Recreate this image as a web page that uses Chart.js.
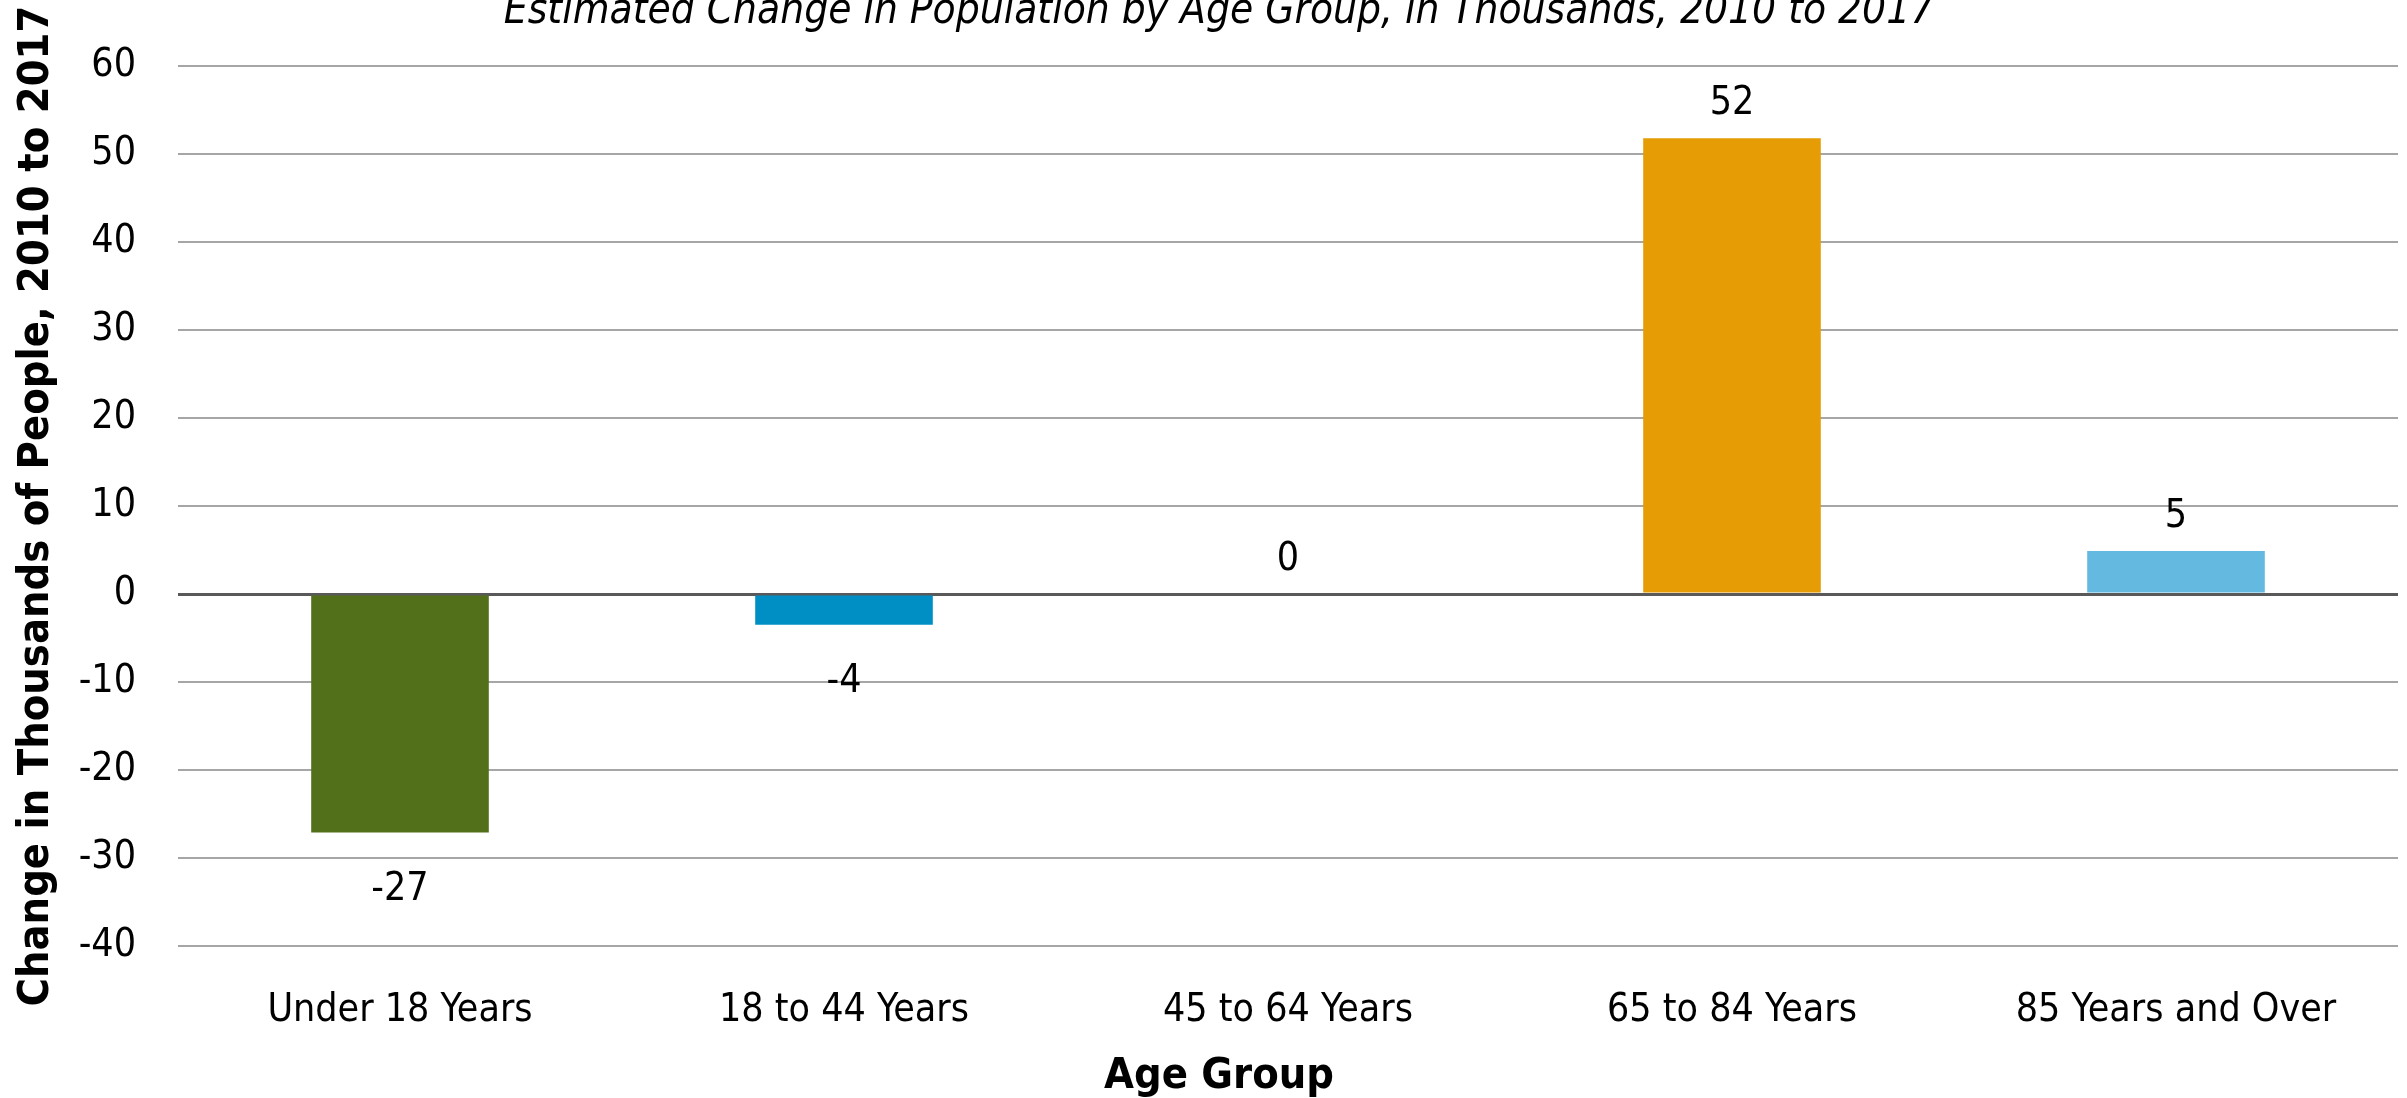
<!DOCTYPE html>
<html>
<head>
<meta charset="utf-8">
<script src="https://cdn.jsdelivr.net/npm/chart.js@4/dist/chart.umd.min.js"></script>
<style>
  html, body { margin: 0; padding: 0; background: #fff; overflow: hidden; }
  #wrap { position: relative; width: 2407px; height: 1098px; }
</style>
</head>
<body>
<div id="wrap"><canvas id="ageChart"></canvas></div>
<script>
// Datos del gráfico
const categories = ['Under 18 Years', '18 to 44 Years', '45 to 64 Years', '65 to 84 Years', '85 Years and Over'];
const changeValues = [-27.1, -3.5, 0, 51.8, 4.9];
const valueLabels = ['-27', '-4', '0', '52', '5'];
const barColors = ['#52701A', '#008FC5', '#8FB23A', '#E69C05', '#63B9DF'];
const yTicks = [60, 50, 40, 30, 20, 10, 0, -10, -20, -30, -40];

const FAMILY = "'DejaVu Sans Condensed', 'DejaVu Sans', sans-serif";

/**
 * Etiquetas de valor sobre / bajo cada barra
 */
const valueLabelPlugin = {
    id: 'valueLabels',
    afterDatasetsDraw(chart) {
        const { ctx } = chart;
        const meta = chart.getDatasetMeta(0);
        ctx.save();
        ctx.font = `39px ${FAMILY}`;
        ctx.fillStyle = '#000';
        ctx.textAlign = 'center';
        ctx.textBaseline = 'middle';
        meta.data.forEach((bar, i) => {
            const v = changeValues[i];
            const y = v >= 0 ? bar.y - 34 : bar.y + 57;
            ctx.fillText(valueLabels[i], bar.x, y);
        });
        ctx.restore();
    }
};

Chart.defaults.font.family = FAMILY;
Chart.defaults.color = '#000';

new Chart(document.getElementById('ageChart'), {
    type: 'bar',
    data: {
        labels: categories,
        datasets: [{
            data: changeValues,
            backgroundColor: barColors,
            borderWidth: 0,
            categoryPercentage: 1,
            barPercentage: 0.4
        }]
    },
    options: {
        responsive: true,
        maintainAspectRatio: false,
        animation: false,
        layout: { padding: { left: 40, right: 9, top: 0, bottom: 0 } },
        plugins: {
            legend: { display: false },
            tooltip: { enabled: false },
            title: {
                display: true,
                text: 'Estimated Change in Population by Age Group, in Thousands, 2010 to 2017',
                color: '#000',
                font: { size: 42, style: 'italic', weight: 'normal', lineHeight: 1 },
                padding: { top: -8.5, bottom: 32.5 }
            },
            subtitle: {
                display: true,
                position: 'bottom',
                text: 'Age Group',
                color: '#000',
                font: { size: 43, weight: 'bold', lineHeight: 1 },
                padding: { top: 27.5, bottom: -0.5 }
            }
        },
        scales: {
            x: {
                grid: { display: false },
                border: { display: false },
                ticks: {
                    padding: 33,
                    maxRotation: 0,
                    font: { size: 39 }
                },
                afterFit: (scale) => { scale.height = 82; }
            },
            y: {
                min: -40,
                max: 60,
                afterBuildTicks: (scale) => {
                    scale.ticks = yTicks.map(v => ({ value: v }));
                },
                border: { display: false },
                grid: {
                    drawTicks: false,
                    color: (c) => c.tick && c.tick.value === 0 ? '#595959' : '#A6A6A6',
                    lineWidth: (c) => c.tick && c.tick.value === 0 ? 3 : 2
                },
                ticks: {
                    padding: 42,
                    font: { size: 39 }
                },
                title: {
                    display: true,
                    text: 'Change in Thousands of People, 2010 to 2017',
                    color: '#000',
                    font: { size: 43, weight: 'bold', lineHeight: 1 },
                    padding: { top: -25, bottom: 0 }
                },
                afterFit: (scale) => { scale.width = 138; }
            }
        }
    },
    plugins: [valueLabelPlugin]
});
</script>
</body>
</html>
